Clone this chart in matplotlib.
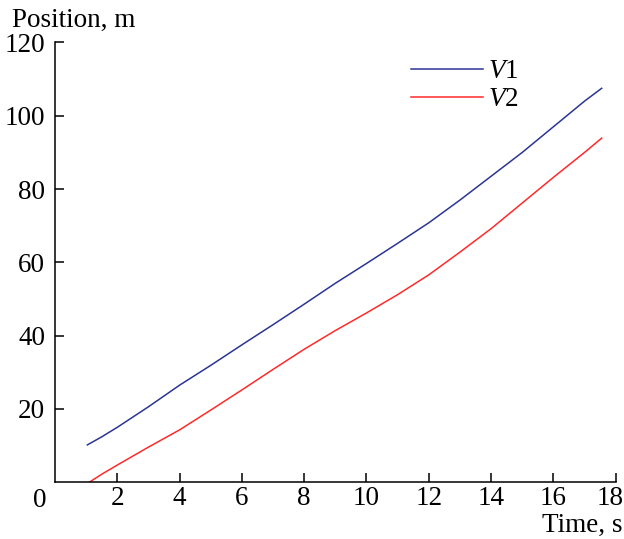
import matplotlib
matplotlib.use("Agg")
import matplotlib.pyplot as plt
import matplotlib.transforms as mtransforms

plt.rcParams['font.family'] = ['Liberation Serif', 'DejaVu Serif']
plt.rcParams['mathtext.fontset'] = 'custom'
plt.rcParams['mathtext.rm'] = 'Liberation Serif'
plt.rcParams['mathtext.it'] = 'Liberation Serif:italic'

# --- data ---
t_v1 = [1.04, 1.5, 2.0, 3.0, 4.0, 5.0, 6.0, 7.0, 8.0, 9.0, 10.0, 11.0, 12.0,
        13.0, 14.0, 15.0, 16.0, 17.0, 17.55]
pos_v1 = [10.2, 12.4, 15.0, 20.6, 26.5, 31.9, 37.5, 43.0, 48.6, 54.3, 59.7,
          65.2, 70.8, 77.0, 83.5, 90.0, 97.0, 104.0, 107.5]

t_v2 = [1.1, 1.5, 2.0, 3.0, 4.0, 5.0, 6.0, 7.0, 8.0, 9.0, 10.0, 11.0, 12.0,
        13.0, 14.0, 15.0, 16.0, 17.0, 17.55]
pos_v2 = [0.0, 2.2, 4.7, 9.6, 14.3, 19.7, 25.2, 30.8, 36.3, 41.4, 46.2, 51.2,
          56.6, 62.8, 69.2, 76.2, 83.2, 90.0, 93.9]

xticks = [2, 4, 6, 8, 10, 12, 14, 16, 18]
yticks = [20, 40, 60, 80, 100, 120]

FS = 19.5

fig = plt.figure(figsize=(6.24, 5.39), dpi=100)
ax = fig.add_axes([0.0881, 0.1052, 0.8986, 0.816])

ax.plot(t_v1, pos_v1, color='#2b3594', lw=1.1, label='$V$1')
ax.plot(t_v2, pos_v2, color='#ff2a2a', lw=1.1, label='$V$2')

ax.set_xlim(0, 18)
ax.set_ylim(0, 120)
ax.set_xticks(xticks)
ax.set_yticks(yticks)

for s in ['top', 'right']:
    ax.spines[s].set_visible(False)
for s in ['left', 'bottom']:
    ax.spines[s].set_linewidth(1.1)

ax.tick_params(axis='both', direction='in', length=6.5, width=1.1,
               labelsize=FS)
ax.tick_params(axis='x', pad=3)
ax.tick_params(axis='y', pad=7)

# last x label sits against the right edge in the reference
last = ax.get_xticklabels()[-1]
last.set_transform(last.get_transform() +
                   mtransforms.ScaledTranslation(-4 / 72, 0, fig.dpi_scale_trans))

# shared origin label
ax.annotate('0', xy=(0, 0), xycoords='data', xytext=(-11, -4),
            textcoords='offset points', ha='center', va='top', fontsize=FS)

fig.text(12 / 624, 1 - 20 / 539, 'Position, m', ha='left', va='center',
         fontsize=FS)
fig.text(0.998, 1 - 525 / 539, 'Time, s', ha='right', va='center', fontsize=FS)

ax.legend(loc='upper left', bbox_to_anchor=(411 / 624, 1 - 59 / 539),
          bbox_transform=fig.transFigure, frameon=False, fontsize=FS,
          handlelength=2.65, handletextpad=0.2, labelspacing=0.12,
          borderpad=0, borderaxespad=0)

plt.savefig('out.png', dpi=100)
